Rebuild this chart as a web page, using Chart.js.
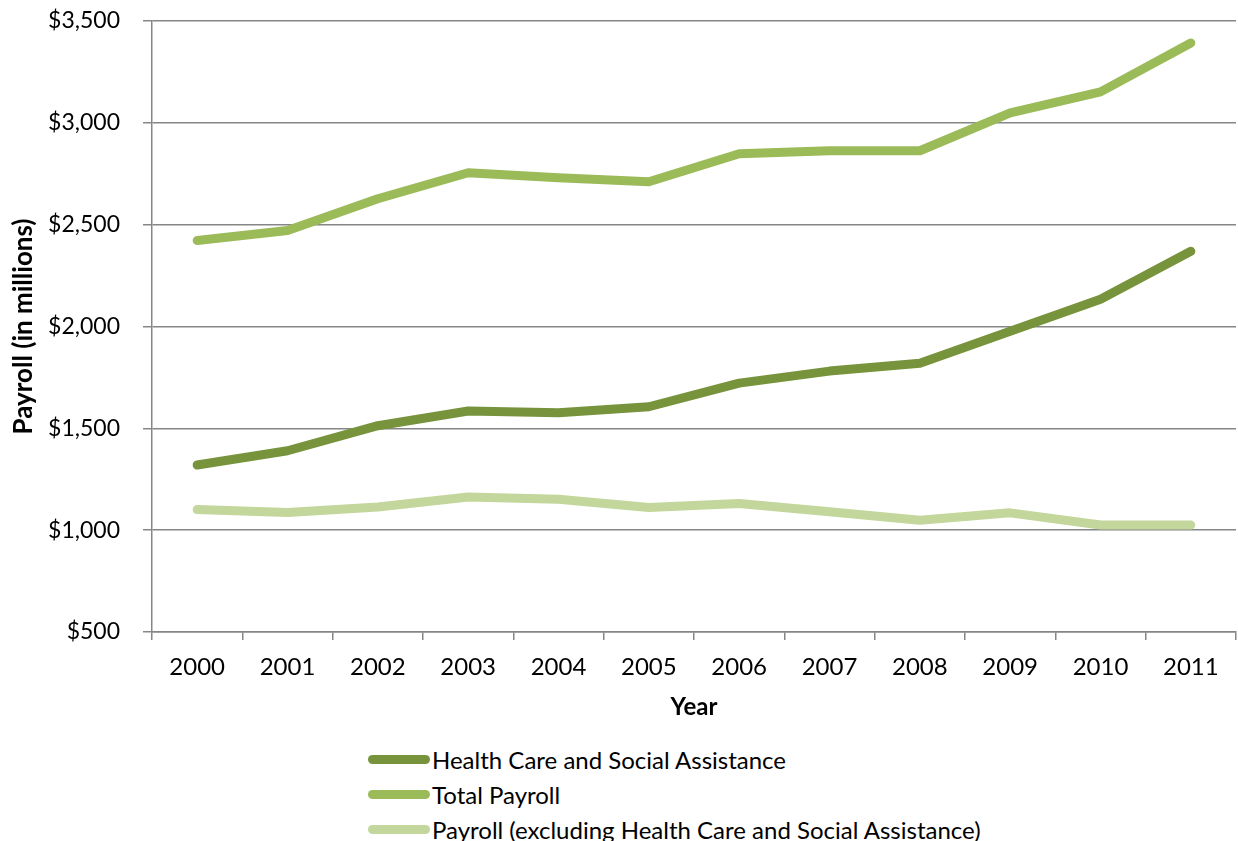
<!DOCTYPE html>
<html>
<head>
<meta charset="utf-8">
<script src="https://cdn.jsdelivr.net/npm/chart.js@4"></script>
<style>
  html, body { margin: 0; padding: 0; background: #fff; }
  body { width: 1238px; height: 841px; overflow: hidden; position: relative; font-family: Lato, sans-serif; }
  #wrap { position: absolute; left: 0; top: 0; width: 1238px; height: 725px; }
  #legenda { position: absolute; left: 368px; top: 742px; }
  .item { display: flex; align-items: center; height: 35px; font-size: 24px; color: #000; }
  .linha { width: 62px; height: 9px; border-radius: 5px; margin-right: 2px; }
</style>
</head>
<body>
<div id="wrap"><canvas id="grafico"></canvas></div>
<div id="legenda"></div>

<script>
// ====================== DADOS ======================
const anos = ["2000", "2001", "2002", "2003", "2004", "2005", "2006", "2007", "2008", "2009", "2010", "2011"];

const saude = [1320, 1390, 1513, 1585, 1576, 1606, 1722, 1781, 1820, 1977, 2134, 2369];
const total = [2422, 2471, 2627, 2755, 2730, 2711, 2848, 2863, 2863, 3049, 3152, 3392];
const semSaude = [1101, 1087, 1114, 1163, 1152, 1111, 1131, 1090, 1049, 1085, 1025, 1025];

const nomes = [
    "Health Care and Social Assistance",
    "Total Payroll",
    "Payroll (excluding Health Care and Social Assistance)"
];
const cores = ["#77933C", "#9BBB59", "#C3D69B"];

const yMin = 500;
const yMax = 3500;
const yPasso = 500;

// ====================== GRÁFICO ======================
const fonte = "Lato, sans-serif";
const cinza = "#868686";

function serie(i, valores) {
    return {
        label: nomes[i],
        data: valores,
        borderColor: cores[i],
        backgroundColor: cores[i],
        borderWidth: 9,
        borderCapStyle: "round",
        borderJoinStyle: "round",
        pointRadius: 0,
        pointHoverRadius: 0,
        tension: 0,
        fill: false
    };
}

const ctx = document.getElementById("grafico");

const grafico = new Chart(ctx, {
    type: "line",
    data: {
        labels: anos,
        datasets: [
            serie(0, saude),
            serie(1, total),
            serie(2, semSaude)
        ]
    },
    options: {
        responsive: true,
        maintainAspectRatio: false,
        animation: false,
        layout: {
            padding: { top: 21, right: 2, left: 0, bottom: 0 }
        },
        plugins: {
            legend: { display: false },
            tooltip: { enabled: false }
        },
        scales: {
            x: {
                type: "category",
                offset: true,
                grid: {
                    offset: true,
                    drawOnChartArea: false,
                    drawTicks: true,
                    tickLength: 8,
                    color: cinza,
                    lineWidth: 1.5
                },
                border: { color: cinza, width: 1.5 },
                ticks: {
                    color: "#000",
                    padding: 13,
                    maxRotation: 0,
                    font: { family: fonte, size: 24 }
                },
                title: {
                    display: true,
                    text: "Year",
                    color: "#000",
                    padding: { top: 4, bottom: 3 },
                    font: { family: fonte, size: 24, weight: "bold" }
                },
                afterFit: (escala) => {
                    escala.height = 93;
                    escala.paddingLeft = 0;
                    escala.paddingRight = 0;
                }
            },
            y: {
                min: yMin,
                max: yMax,
                grid: {
                    color: cinza,
                    lineWidth: 1.5,
                    drawTicks: true,
                    tickLength: 9
                },
                border: { color: cinza, width: 1.5 },
                ticks: {
                    stepSize: yPasso,
                    color: "#000",
                    padding: 23,
                    font: { family: fonte, size: 23 },
                    callback: (valor) => "$" + valor.toLocaleString("en-US")
                },
                title: {
                    display: true,
                    text: "Payroll (in millions)",
                    color: "#000",
                    padding: { top: 8, bottom: 0 },
                    font: { family: fonte, size: 26, weight: "bold" }
                },
                afterFit: (escala) => {
                    escala.width = 152;
                    escala.paddingTop = 0;
                    escala.paddingBottom = 0;
                }
            }
        }
    }
});

// ====================== LEGENDA ======================
let corpoLegenda = "";
grafico.data.datasets.forEach(ds => {
    corpoLegenda += `
    <div class="item">
        <span class="linha" style="background:${ds.borderColor}"></span>
        <span>${ds.label}</span>
    </div>`;
});
document.getElementById("legenda").innerHTML = corpoLegenda;
</script>
</body>
</html>
